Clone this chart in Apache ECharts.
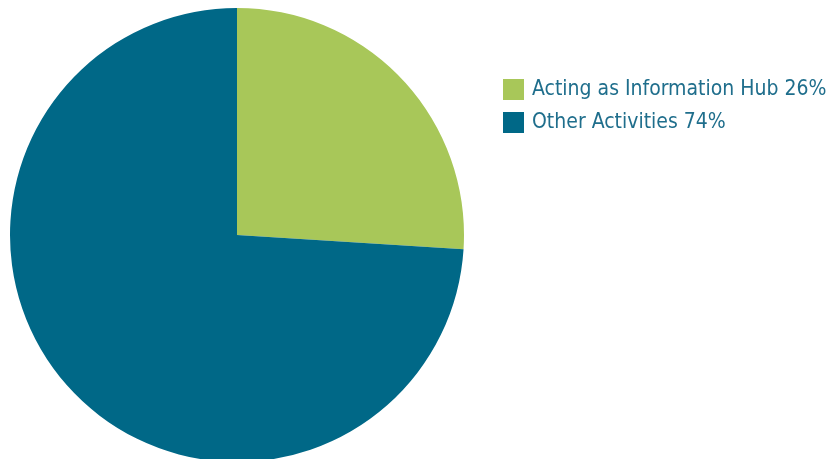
<!DOCTYPE html>
<html>
<head>
<meta charset="utf-8">
<script src="https://cdn.jsdelivr.net/npm/echarts@6/dist/echarts.min.js"></script>
<style>
  html, body { margin: 0; padding: 0; background: #ffffff; }
  #chart { width: 837px; height: 459px; }
</style>
</head>
<body>
<div id="chart"></div>
<script>
// Share of time spent per activity
const categories = ['Acting as Information Hub', 'Other Activities'];
const shares = [26, 74];
const colors = ['#a8c759', '#006887'];

const chart = echarts.init(document.getElementById('chart'), null, { renderer: 'canvas' });

const data = categories.map((name, i) => ({
  name: name,
  value: shares[i],
  itemStyle: { color: colors[i] }
}));

chart.setOption({
  animation: false,
  legend: {
    orient: 'vertical',
    left: 498,
    top: 74,
    itemWidth: 21,
    itemHeight: 21,
    itemGap: 12,
    icon: 'rect',
    textStyle: {
      fontFamily: '"DejaVu Sans Condensed", "Roboto Condensed", "Liberation Sans Narrow", sans-serif',
      fontSize: 21,
      color: '#1f6e8c',
      padding: [0, 0, 0, 3]
    },
    formatter: function (name) {
      const i = categories.indexOf(name);
      return name + ' ' + shares[i] + '%';
    },
    data: categories
  },
  series: [{
    type: 'pie',
    center: [237, 235],
    radius: 227,
    startAngle: 90,
    clockwise: true,
    label: { show: false },
    labelLine: { show: false },
    emphasis: { disabled: true },
    itemStyle: { borderWidth: 0 },
    data: data
  }]
});
</script>
</body>
</html>
